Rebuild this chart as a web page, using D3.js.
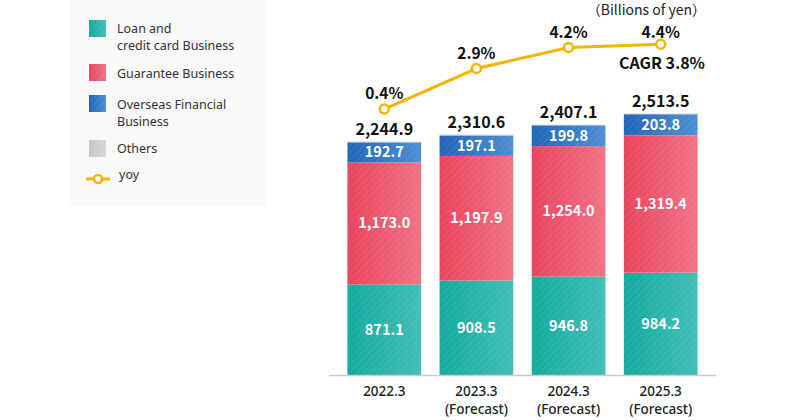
<!DOCTYPE html>
<html>
<head>
<meta charset="utf-8">
<script src="https://cdn.jsdelivr.net/npm/d3@7"></script>
<style>
  html, body { margin: 0; padding: 0; background: #fff; }
  svg { display: block; font-family: "Noto Sans CJK JP", "Noto Sans", sans-serif; }
</style>
</head>
<body>
<svg id="chart" width="804" height="420"></svg>
<script>
const categories = ["2022.3", "2023.3", "2024.3", "2025.3"];
const categorySub = ["", "(Forecast)", "(Forecast)", "(Forecast)"];
const loanValues = [871.1, 908.5, 946.8, 984.2];
const guaranteeValues = [1173.0, 1197.9, 1254.0, 1319.4];
const overseasValues = [192.7, 197.1, 199.8, 203.8];
const othersValues = [8.1, 7.1, 6.5, 6.1];
const totalLabels = ["2,244.9", "2,310.6", "2,407.1", "2,513.5"];
const totals = [2244.9, 2310.6, 2407.1, 2513.5];
const yoyValues = [0.4, 2.9, 4.2, 4.4];
const seriesNames = ["Loan and\ncredit card Business", "Guarantee Business", "Overseas Financial\nBusiness", "Others"];
const seriesKeys = ["loan", "guarantee", "overseas", "others"];
const unitLabel = "（Billions of yen）";
const cagrLabel = "CAGR 3.8%";

const colors = {
  loan: ["#14aa9f", "#41bfb5"],
  guarantee: ["#e9445e", "#f17284"],
  overseas: ["#2165b7", "#4d8fd4"],
  others: ["#c6c6c6", "#d6d6d6"]
};
const lineColor = "#f5b400";

const svg = d3.select("#chart");
const defs = svg.append("defs");

seriesKeys.forEach(k => {
  const g = defs.append("linearGradient").attr("id", "grad-" + k)
    .attr("x1", "0").attr("x2", "1").attr("y1", "0").attr("y2", "0");
  g.append("stop").attr("offset", "0").attr("stop-color", colors[k][0]);
  g.append("stop").attr("offset", "1").attr("stop-color", colors[k][1]);
});
const pat = defs.append("pattern").attr("id", "stripes")
  .attr("patternUnits", "userSpaceOnUse").attr("width", 5).attr("height", 5)
  .attr("patternTransform", "rotate(45)");
pat.append("line").attr("x1", 0).attr("y1", 0).attr("x2", 0).attr("y2", 5)
  .attr("stroke", "#ffffff").attr("stroke-opacity", 0.1).attr("stroke-width", 1.5);

// legend panel
svg.append("rect").attr("x", 69).attr("y", 0).attr("width", 197).attr("height", 206).attr("fill", "#f9f9f9");

const legendItems = [
  { key: "loan", y: 20, lines: seriesNames[0].split("\n"), base: 33 },
  { key: "guarantee", y: 64, lines: seriesNames[1].split("\n"), base: 78 },
  { key: "overseas", y: 95, lines: seriesNames[2].split("\n"), base: 109 },
  { key: "others", y: 140, lines: seriesNames[3].split("\n"), base: 153 }
];
legendItems.forEach(it => {
  svg.append("rect").attr("x", 89).attr("y", it.y).attr("width", 17).attr("height", 17)
    .attr("fill", "url(#grad-" + it.key + ")");
  svg.append("rect").attr("x", 89).attr("y", it.y).attr("width", 17).attr("height", 17)
    .attr("fill", "url(#stripes)");
  it.lines.forEach((l, i) => {
    svg.append("text").attr("x", 117).attr("y", it.base + i * 17)
      .attr("font-family", "'Noto Sans', sans-serif")
      .attr("font-size", 12.5).attr("fill", "#333").text(l);
  });
});
svg.append("line").attr("x1", 86).attr("x2", 110).attr("y1", 179).attr("y2", 179)
  .attr("stroke", lineColor).attr("stroke-width", 3);
svg.append("circle").attr("cx", 98).attr("cy", 179).attr("r", 4)
  .attr("fill", "#fff").attr("stroke", lineColor).attr("stroke-width", 2.5);
svg.append("text").attr("x", 119).attr("y", 179)
  .attr("font-family", "'Noto Sans', sans-serif")
  .attr("font-size", 12.5).attr("fill", "#333").text("yoy");

// scales
const x = d3.scaleBand().domain(categories).range([329, 716]).paddingInner(0.2).paddingOuter(0.2);
const y = d3.scaleLinear().domain([0, 2500]).range([375, 115]);
const yLine = d3.scaleLinear().domain([0, 5]).range([115.5, 34.5]);

const data = categories.map((c, i) => ({
  cat: c, loan: loanValues[i], guarantee: guaranteeValues[i],
  overseas: overseasValues[i], others: othersValues[i]
}));
const stacked = d3.stack().keys(seriesKeys)(data);
const fmt = d3.format(",.1f");

stacked.forEach(layer => {
  const k = layer.key;
  const g = svg.append("g");
  layer.forEach(d => {
    const bx = x(d.data.cat), by = y(d[1]), bh = y(d[0]) - y(d[1]);
    const gradId = "bg-" + k + "-" + d.data.cat.replace(".", "");
    const gr = defs.append("linearGradient").attr("id", gradId)
      .attr("gradientUnits", "userSpaceOnUse")
      .attr("x1", bx).attr("x2", bx + x.bandwidth()).attr("y1", 0).attr("y2", 0);
    gr.append("stop").attr("offset", "0").attr("stop-color", colors[k][0]);
    gr.append("stop").attr("offset", "1").attr("stop-color", colors[k][1]);
    g.append("rect").attr("x", bx).attr("y", by).attr("width", x.bandwidth()).attr("height", bh)
      .attr("fill", "url(#" + gradId + ")");
    g.append("rect").attr("x", bx).attr("y", by).attr("width", x.bandwidth()).attr("height", bh)
      .attr("fill", "url(#stripes)");
    if (k !== "others") {
      g.append("text").attr("x", bx + x.bandwidth() / 2).attr("y", (by + bh / 2) + 5)
        .attr("text-anchor", "middle").attr("font-size", 14.5).attr("font-weight", "bold")
        .attr("fill", "#fff").text(fmt(d.data[k]));
    }
  });
});

// axis baseline
svg.append("line").attr("x1", 329).attr("x2", 716).attr("y1", 375.5).attr("y2", 375.5)
  .attr("stroke", "#cccccc").attr("stroke-width", 1.5);

// category labels
categories.forEach((c, i) => {
  const cx = x(c) + x.bandwidth() / 2;
  svg.append("text").attr("x", cx).attr("y", 395.5).attr("text-anchor", "middle")
    .attr("font-family", "'Noto Sans', sans-serif")
    .attr("font-size", 13.5).attr("font-weight", 500).attr("fill", "#222").text(c);
  if (categorySub[i]) {
    svg.append("text").attr("x", cx).attr("y", 413.5).attr("text-anchor", "middle")
      .attr("font-family", "'Noto Sans', sans-serif")
      .attr("font-size", 13.5).attr("font-weight", 500).attr("fill", "#222").text(categorySub[i]);
  }
});

// totals
categories.forEach((c, i) => {
  svg.append("text").attr("x", x(c) + x.bandwidth() / 2).attr("y", y(totals[i]) - 7)
    .attr("text-anchor", "middle").attr("font-size", 16).attr("font-weight", "bold")
    .attr("fill", "#111").text(totalLabels[i]);
});

// yoy line
const pts = categories.map((c, i) => [x(c) + x.bandwidth() / 2, yLine(yoyValues[i])]);
svg.append("path").attr("d", d3.line()(pts)).attr("fill", "none")
  .attr("stroke", lineColor).attr("stroke-width", 3);
pts.forEach((p, i) => {
  svg.append("circle").attr("cx", p[0]).attr("cy", p[1]).attr("r", 4.5)
    .attr("fill", "#fff").attr("stroke", lineColor).attr("stroke-width", 2.5);
  svg.append("text").attr("x", p[0]).attr("y", Math.max(p[1] - 10, 37.5))
    .attr("text-anchor", "middle").attr("font-size", 15.5).attr("font-weight", "bold")
    .attr("fill", "#111").text(yoyValues[i].toFixed(1) + "%");
});

svg.append("text").attr("x", 662).attr("y", 69).attr("text-anchor", "middle")
  .attr("font-size", 16).attr("font-weight", "bold").attr("fill", "#111").text(cagrLabel);
svg.append("text").attr("x", 706).attr("y", 15).attr("text-anchor", "end")
  .attr("font-size", 14).attr("fill", "#222").text(unitLabel);
</script>
</body>
</html>
